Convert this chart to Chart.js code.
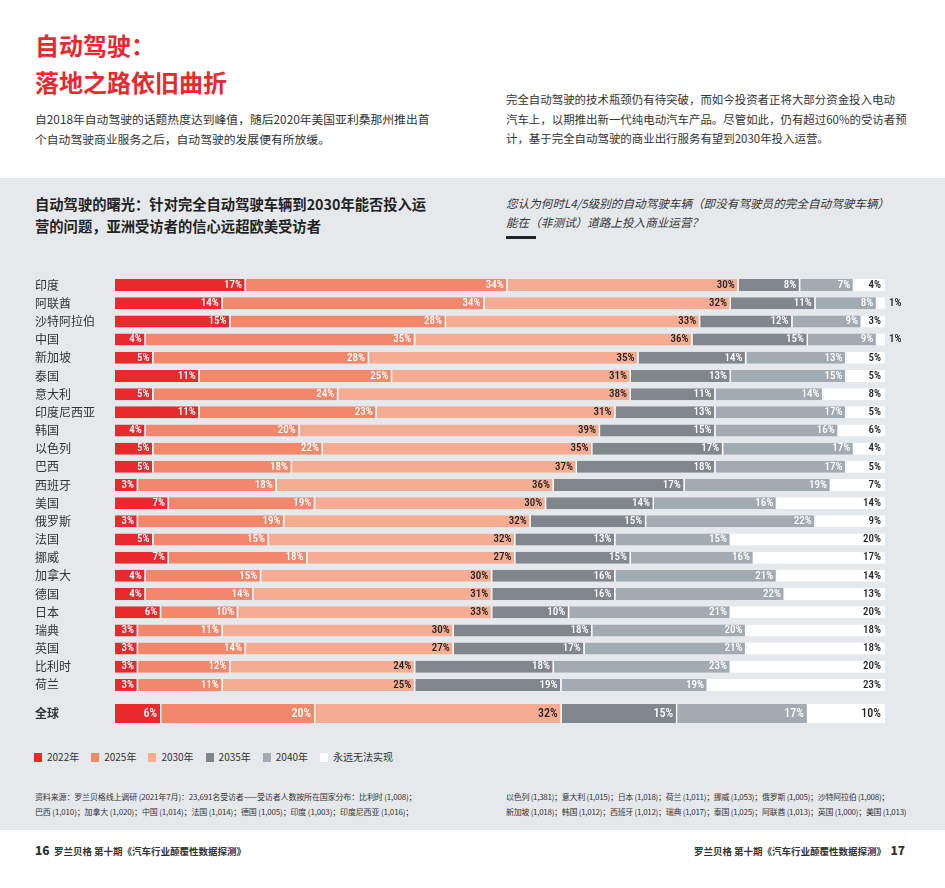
<!DOCTYPE html>
<html>
<head>
<meta charset="utf-8">
<script src="https://cdn.jsdelivr.net/npm/chart.js@4/dist/chart.umd.min.js"></script>
<style>
  body { margin: 0; background: #fff; font-family: "Noto Sans CJK SC", "Noto Sans", sans-serif; color: #333; }
  #page { position: relative; width: 945px; height: 888px; overflow: hidden; }
  .abs { position: absolute; white-space: nowrap; }
  #title { left: 35px; top: 26px; font-size: 24px; line-height: 37px; font-weight: bold; color: #e8292d; }
  .intro { font-size: 11.8px; line-height: 20px; color: #333; }
  #panel { left: 0; top: 178px; width: 945px; height: 652px; background: #e6e9ec; }
  #subtitle { left: 35px; top: 193px; font-size: 14.3px; line-height: 22px; font-weight: bold; color: #222; }
  #question { left: 506px; top: 194px; font-size: 11.6px; line-height: 19px; font-style: italic; color: #333; }
  #rule { left: 506px; top: 236px; width: 30px; height: 3px; background: #222; }
  #legend { left: 34px; top: 750px; font-size: 10px; line-height: 14px; color: #333; }
  #legend span.item { display: inline-block; margin-right: 12px; }
  #legend i { display: inline-block; width: 8px; height: 9px; margin-right: 5px; vertical-align: -1px; }
  .source { font-size: 8px; line-height: 15px; color: #333; letter-spacing: -0.15px; }
  .footer { top: 843px; font-size: 9.5px; line-height: 14px; font-weight: bold; color: #333; }
  .footer b { font-size: 12px; }
  .chartbox { position: absolute; left: 35px; width: 870px; }
</style>
</head>
<body>
<div id="page">
  <div id="title" class="abs">自动驾驶：<br>落地之路依旧曲折</div>
  <div class="abs intro" style="left:35px; top:109px;">自2018年自动驾驶的话题热度达到峰值，随后2020年美国亚利桑那州推出首<br>个自动驾驶商业服务之后，自动驾驶的发展便有所放缓。</div>
  <div class="abs intro" style="left:506px; top:90px; font-size:11.45px; line-height:19.5px;">完全自动驾驶的技术瓶颈仍有待突破，而如今投资者正将大部分资金投入电动<br>汽车上，以期推出新一代纯电动汽车产品。尽管如此，仍有超过60%的受访者预<br>计，基于完全自动驾驶的商业出行服务有望到2030年投入运营。</div>

  <div id="panel" class="abs"></div>
  <div id="subtitle" class="abs">自动驾驶的曙光：针对完全自动驾驶车辆到2030年能否投入运<br>营的问题，亚洲受访者的信心远超欧美受访者</div>
  <div id="question" class="abs">您认为何时L4/5级别的自动驾驶车辆（即没有驾驶员的完全自动驾驶车辆）<br>能在（非测试）道路上投入商业运营？</div>
  <div id="rule" class="abs"></div>

  <div class="chartbox" style="top:266px; height:438px;"><canvas id="countryChart"></canvas></div>
  <div class="chartbox" style="top:694px; height:38px;"><canvas id="globalChart"></canvas></div>

  <div id="legend" class="abs"></div>

  <div class="abs source" style="left:35px; top:789px;">资料来源：罗兰贝格线上调研 (2021年7月)：23,691名受访者——受访者人数按所在国家分布：比利时 (1,008)；<br>巴西 (1,010)；加拿大 (1,020)；中国 (1,014)；法国 (1,014)；德国 (1,005)；印度 (1,003)；印度尼西亚 (1,016)；</div>
  <div class="abs source" style="left:506px; top:789px; letter-spacing:-0.28px;">以色列 (1,381)；意大利 (1,015)；日本 (1,018)；荷兰 (1,011)；挪威 (1,053)；俄罗斯 (1,005)；沙特阿拉伯 (1,008)；<br>新加坡 (1,018)；韩国 (1,012)；西班牙 (1,012)；瑞典 (1,017)；泰国 (1,025)；阿联酋 (1,013)；英国 (1,000)；美国 (1,013)</div>

  <div class="abs footer" style="left:35px;"><b>16</b>&nbsp; 罗兰贝格 第十期《汽车行业颠覆性数据探测》</div>
  <div class="abs footer" style="right:40px;">罗兰贝格 第十期《汽车行业颠覆性数据探测》&nbsp; <b>17</b></div>
</div>

<script>
// Countries, top to bottom
var countries = ['印度', '阿联酋', '沙特阿拉伯', '中国', '新加坡', '泰国', '意大利', '印度尼西亚',
  '韩国', '以色列', '巴西', '西班牙', '美国', '俄罗斯', '法国', '挪威', '加拿大', '德国', '日本',
  '瑞典', '英国', '比利时', '荷兰'];

// Share of respondents (%) per answer
var y2022 = [17, 14, 15, 4, 5, 11, 5, 11, 4, 5, 5, 3, 7, 3, 5, 7, 4, 4, 6, 3, 3, 3, 3];
var y2025 = [34, 34, 28, 35, 28, 25, 24, 23, 20, 22, 18, 18, 19, 19, 15, 18, 15, 14, 10, 11, 14, 12, 11];
var y2030 = [30, 32, 33, 36, 35, 31, 38, 31, 39, 35, 37, 36, 30, 32, 32, 27, 30, 31, 33, 30, 27, 24, 25];
var y2035 = [8, 11, 12, 15, 14, 13, 11, 13, 15, 17, 18, 17, 14, 15, 13, 15, 16, 16, 10, 18, 17, 18, 19];
var y2040 = [7, 8, 9, 9, 13, 15, 14, 17, 16, 17, 17, 19, 16, 22, 15, 16, 21, 22, 21, 20, 21, 23, 19];
var never = [4, 1, 3, 1, 5, 5, 8, 5, 6, 4, 5, 7, 14, 9, 20, 17, 14, 13, 20, 18, 18, 20, 23];

var globalLabel = ['全球'];
var globalValues = [6, 20, 32, 15, 17, 10];

var seriesNames = ['2022年', '2025年', '2030年', '2035年', '2040年', '永远无法实现'];
var seriesColors = ['#e8292d', '#f2876b', '#f6ac92', '#80868c', '#a3abb2', '#ffffff'];
var darkText = [false, false, true, false, false, true];

Chart.defaults.font.family = '"Noto Sans CJK SC", "Noto Sans", sans-serif';
Chart.defaults.color = '#333';

// Draw the percentage at the right end of each segment
var segmentLabels = {
  id: 'segmentLabels',
  afterDatasetsDraw: function(chart) {
    var ctx = chart.ctx;
    var size = chart.options.plugins.segmentLabels.size;
    chart.data.datasets.forEach(function(ds, i) {
      var meta = chart.getDatasetMeta(i);
      meta.data.forEach(function(bar, j) {
        var v = ds.data[j];
        ctx.save();
        ctx.font = '500 ' + size + 'px "Roboto Condensed", "Liberation Sans Narrow", "DejaVu Sans Condensed", Roboto, sans-serif';
        try { ctx.fontStretch = 'condensed'; } catch (e) {}
        ctx.textBaseline = 'middle';
        if (v <= 1) {
          // too small to hold the text, put it after the bar
          ctx.textAlign = 'left';
          ctx.fillStyle = '#222';
          ctx.fillText(v + '%', bar.x + 4, bar.y);
        } else {
          ctx.textAlign = 'right';
          ctx.fillStyle = darkText[i] ? '#222' : '#fff';
          ctx.fillText(v + '%', bar.x - 4, bar.y);
        }
        ctx.restore();
      });
    });
  }
};

function buildDatasets(columns, thickness) {
  return seriesNames.map(function(name, i) {
    return {
      label: name,
      data: columns[i],
      backgroundColor: seriesColors[i],
      borderColor: '#ffffff',
      borderWidth: { right: 1.5 },
      borderSkipped: false,
      barPercentage: thickness,
      categoryPercentage: 1
    };
  });
}

function buildOptions(labelSize, tickFont, padding) {
  return {
    indexAxis: 'y',
    responsive: true,
    maintainAspectRatio: false,
    animation: false,
    layout: { padding: padding },
    plugins: {
      legend: { display: false },
      tooltip: { enabled: false },
      segmentLabels: { size: labelSize }
    },
    scales: {
      x: { stacked: true, min: 0, max: 100, display: false },
      y: {
        stacked: true,
        grid: { display: false },
        border: { display: false },
        ticks: { crossAlign: 'far', padding: 0, color: '#333', font: tickFont },
        afterFit: function(scale) { scale.width = 80; }
      }
    }
  };
}

new Chart(document.getElementById('countryChart'), {
  type: 'bar',
  data: {
    labels: countries,
    datasets: buildDatasets([y2022, y2025, y2030, y2035, y2040, never], 0.66)
  },
  options: buildOptions(11, { size: 12 }, { top: 10, bottom: 10, right: 20, left: 0 }),
  plugins: [segmentLabels]
});

new Chart(document.getElementById('globalChart'), {
  type: 'bar',
  data: {
    labels: globalLabel,
    datasets: buildDatasets(globalValues.map(function(v) { return [v]; }), 1)
  },
  options: buildOptions(12, { size: 12, weight: 'bold' }, { top: 10, bottom: 9, right: 20, left: 0 }),
  plugins: [segmentLabels]
});

// HTML legend built from the series names
var legend = document.getElementById('legend');
seriesNames.forEach(function(name, i) {
  var item = document.createElement('span');
  item.className = 'item';
  item.innerHTML = '<i style="background:' + seriesColors[i] + '"></i>' + name;
  legend.appendChild(item);
});
</script>
</body>
</html>
